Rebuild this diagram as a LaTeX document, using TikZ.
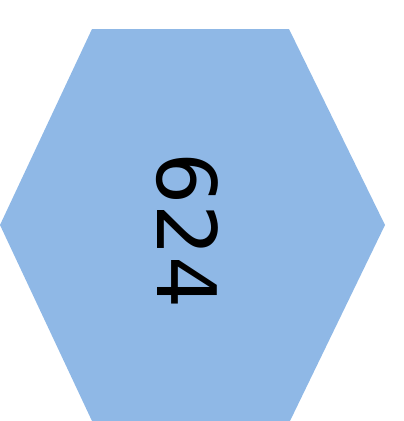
\documentclass[tikz,border=0pt]{standalone}
\usepackage{fontspec}
\setmainfont{DejaVu Sans}
\usepackage{xcolor}
\usepackage{tikz}
\usetikzlibrary{positioning,calc}
\definecolor{hexblue}{RGB}{143,184,230}
\tikzset{
  hexcell/.style = {fill=hexblue, draw=none},
  hexlbl/.style  = {font=\fontsize{82pt}{82pt}\selectfont, rotate=-90, inner sep=0pt, text=black},
}

\begin{document}
\begin{tikzpicture}[x=1pt,y=-1pt]
  \useasboundingbox (0,0) rectangle (404,421);

  % ---------- hexagon ----------
  \fill[hexcell] (0,225) -- (92,29) -- (289,29) -- (385,225) -- (290,421) -- (92,421) -- cycle;
  \node[hexlbl] (val) at (187,230.5) {624};
\end{tikzpicture}
\end{document}
